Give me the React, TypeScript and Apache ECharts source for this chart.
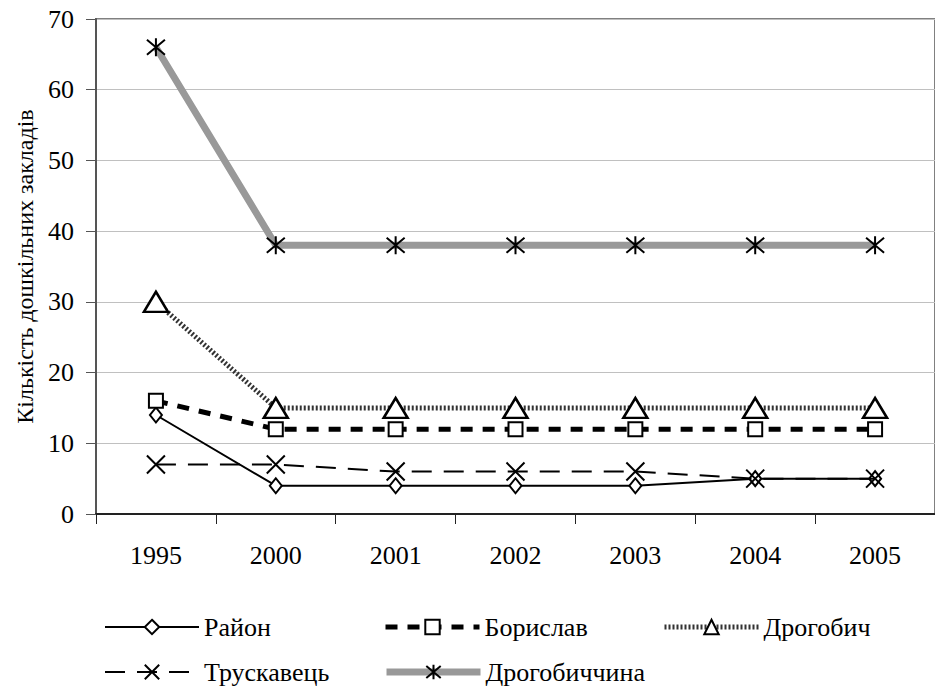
import React, { useEffect, useRef } from "react";
import * as echarts from "echarts";

const years = ["1995", "2000", "2001", "2002", "2003", "2004", "2005"];
const rayon = [14, 4, 4, 4, 4, 5, 5];
const boryslav = [16, 12, 12, 12, 12, 12, 12];
const drohobych = [30, 15, 15, 15, 15, 15, 15];
const truskavets = [7, 7, 6, 6, 6, 5, 5];
const drohobychchyna = [66, 38, 38, 38, 38, 38, 38];

const FONT = "Liberation Serif";
const X_PATH = "path://M0,0L10,10M10,0L0,10";
const STAR_PATH = "path://M0,0L10,10M10,0L0,10M5,-1L5,11";

export default function App() {
  const ref = useRef<HTMLDivElement>(null);
  useEffect(() => {
    if (!ref.current) return;
    const chart = echarts.init(ref.current, null, { renderer: "svg" });
    const legendText = { fontFamily: FONT, fontSize: 26, color: "#000" };
    const legendBase = {
      orient: "horizontal",
      itemWidth: 94,
      itemHeight: 18,
      itemGap: 6,
      textStyle: legendText,
      padding: 0,
      lineStyle: { width: "inherit" },
    };
    chart.setOption({
      animation: false,
      grid: {
        left: 96,
        top: 19,
        bottom: 175,
        right: -3,
        show: true,
        borderColor: "#808080",
        borderWidth: 2,
        backgroundColor: "transparent",
      },
      legend: [
        { ...legendBase, data: ["Район"], left: 104, top: 614 },
        { ...legendBase, data: ["Борислав"], left: 383, top: 614 },
        { ...legendBase, data: ["Дрогобич"], left: 662, top: 614 },
        { ...legendBase, data: ["Трускавець"], left: 104, top: 659 },
        { ...legendBase, data: ["Дрогобиччина"], left: 383, top: 659 },
      ],
      xAxis: {
        type: "category",
        data: years,
        boundaryGap: true,
        axisLine: { lineStyle: { color: "#222", width: 2 } },
        axisTick: { show: true, length: 10, inside: false, lineStyle: { color: "#222", width: 1 } },
        axisLabel: { fontFamily: FONT, fontSize: 26, color: "#000", margin: 28 },
        splitLine: { show: false },
      },
      yAxis: {
        type: "value",
        min: 0,
        max: 70,
        interval: 10,
        name: "Кількість дошкільних закладів",
        nameLocation: "middle",
        nameGap: 54,
        nameTextStyle: { fontFamily: FONT, fontSize: 24, color: "#000" },
        axisLine: { show: true, lineStyle: { color: "#555", width: 2 } },
        axisTick: { show: true, length: 10, lineStyle: { color: "#555", width: 1 } },
        axisLabel: { fontFamily: FONT, fontSize: 26, color: "#000", margin: 22 },
        splitLine: { show: true, lineStyle: { color: "#c0c0c0", width: 1 } },
      },
      series: [
        {
          name: "Район",
          type: "line",
          data: rayon,
          symbol: "diamond",
          symbolSize: [12, 15],
          lineStyle: { color: "#000", width: 2, type: "solid" },
          itemStyle: { color: "#fff", borderColor: "#000", borderWidth: 2 },
          z: 2,
        },
        {
          name: "Борислав",
          type: "line",
          data: boryslav,
          symbol: "rect",
          symbolSize: 14,
          lineStyle: { color: "#000", width: 5, type: [12, 10] },
          itemStyle: { color: "#fff", borderColor: "#000", borderWidth: 2 },
          z: 3,
        },
        {
          name: "Дрогобич",
          type: "line",
          data: drohobych,
          symbol: "triangle",
          symbolSize: [24, 20],
          lineStyle: { color: "#333", width: 5, type: [2, 2] },
          itemStyle: { color: "#fff", borderColor: "#000", borderWidth: 2.5 },
          z: 4,
        },
        {
          name: "Трускавець",
          type: "line",
          data: truskavets,
          symbol: X_PATH,
          symbolSize: 18,
          lineStyle: { color: "#000", width: 2, type: [20, 12] },
          itemStyle: { color: "none", borderColor: "#000", borderWidth: 2 },
          z: 5,
        },
        {
          name: "Дрогобиччина",
          type: "line",
          data: drohobychchyna,
          symbol: STAR_PATH,
          symbolSize: 18,
          lineStyle: { color: "#999", width: 7, type: "solid" },
          itemStyle: { color: "none", borderColor: "#000", borderWidth: 2 },
          z: 6,
        },
      ],
    });
    return () => chart.dispose();
  }, []);
  return <div ref={ref} style={{ width: 935, height: 689, position: "absolute", left: 0, top: 0 }} />;
}
